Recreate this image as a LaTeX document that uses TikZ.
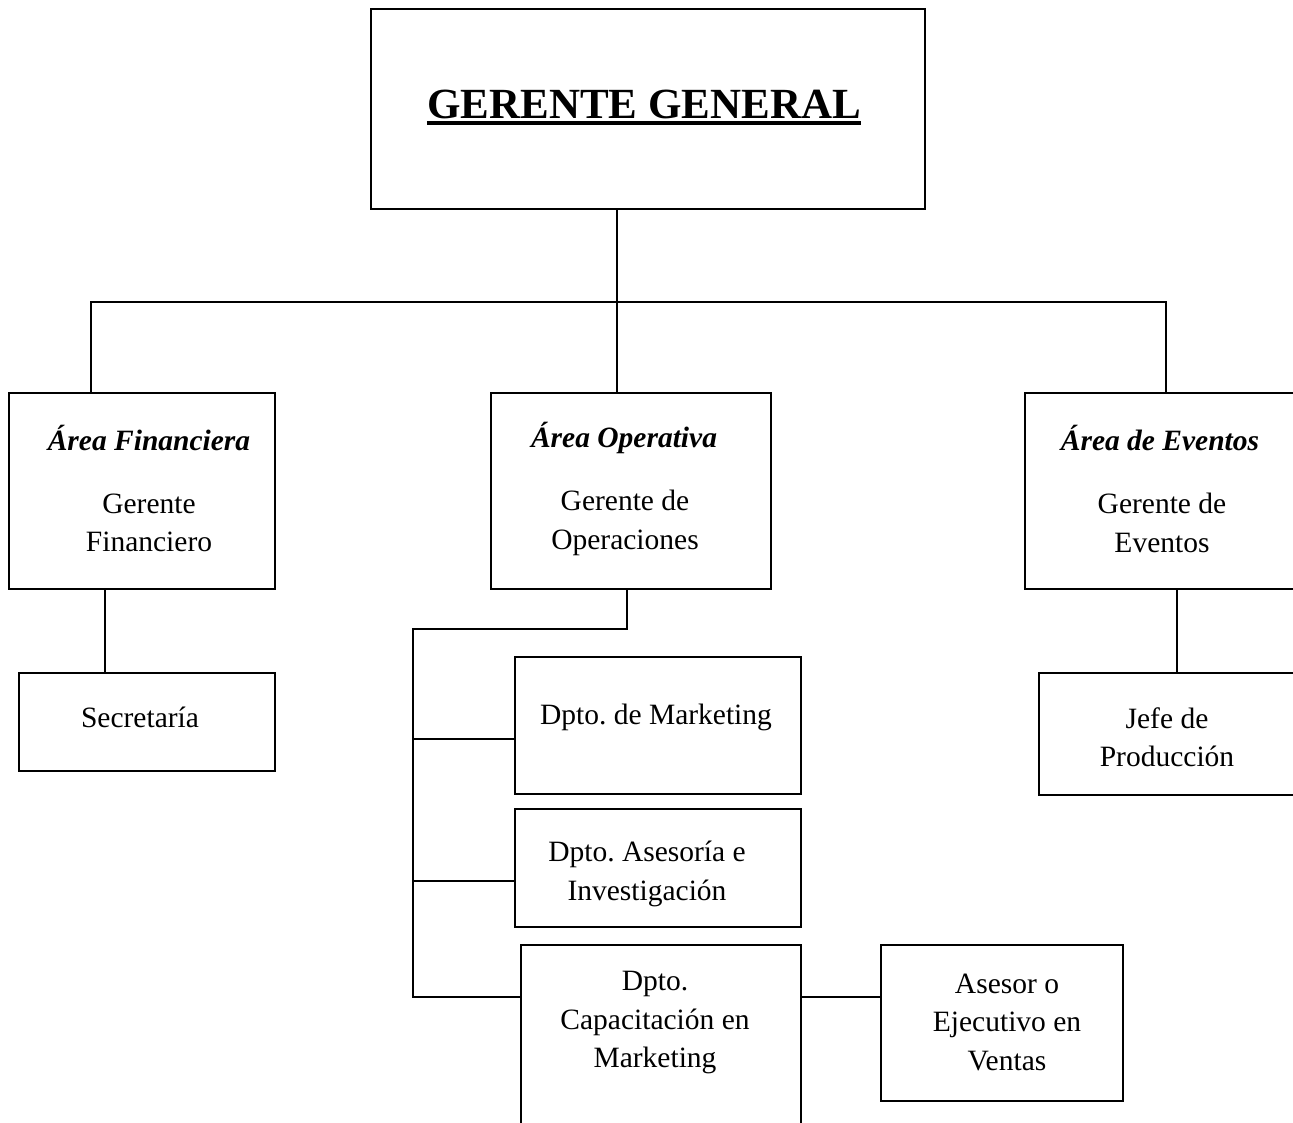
\documentclass[tikz,border=0pt]{standalone}
\usepackage{fontspec}
\setmainfont{Liberation Serif}
\frenchspacing
\begin{document}
\begin{tikzpicture}[x=1pt,y=-1pt,
  box/.style={draw=black,line width=1.6pt,rectangle,inner sep=0pt},
  conn/.style={draw=black,line width=1.6pt},
  txt/.style={inner sep=0pt,align=center,font=\fontsize{29.5}{38.5}\selectfont},
  head/.style={inner sep=0pt,align=center,font=\fontsize{29.5}{39}\selectfont\bfseries\itshape}]
\useasboundingbox (0,0) rectangle (1293,1122);
\begin{scope}
\clip (0,0) rectangle (1293,1122);
% boxes
\node[box,minimum width=554pt,minimum height=200pt] (gg) at (648,109) {};
\node[box,minimum width=266pt,minimum height=196pt] (af) at (142,491) {};
\node[box,minimum width=280pt,minimum height=196pt] (ao) at (631,491) {};
\node[box,minimum width=280pt,minimum height=196pt] (ae) at (1165,491) {};
\node[box,minimum width=256pt,minimum height=98pt] (sec) at (147,722) {};
\node[box,minimum width=286pt,minimum height=137pt] (mk) at (658,725.5) {};
\node[box,minimum width=286pt,minimum height=118pt] (as) at (658,868) {};
\node[box,minimum width=280pt,minimum height=200pt] (cap) at (661,1045) {};
\node[box,minimum width=242pt,minimum height=156pt] (ase) at (1002,1023) {};
\node[box,minimum width=270pt,minimum height=122pt] (jp) at (1174,734) {};
\end{scope}
% title
\node[inner sep=0pt,anchor=base,font=\fontsize{43}{50}\selectfont\bfseries] (title) at (644,118) {GERENTE GENERAL};
\draw[line width=3.5pt] ([yshift=-5pt]title.base west) -- ([yshift=-5pt]title.base east);
% texts
\node[head] (afh) at (149,438) {Área Financiera};
\node[txt] (aft) at (149,523) {Gerente\\Financiero};
\node[head] (aoh) at (624,438) {Área Operativa};
\node[txt] (aot) at (625,523) {Gerente de\\Operaciones};
\node[head] (aeh) at (1160,438) {Área de Eventos};
\node[txt] (aet) at (1162,523) {Gerente de\\Eventos};
\node[txt] (sect) at (140,717) {Secretaría};
\node[txt] (mkt) at (656,717) {Dpto. de Marketing};
\node[txt] (ast) at (647,874) {Dpto. Asesoría e\\Investigación};
\node[txt] (capt) at (655,1023) {Dpto.\\Capacitación en\\Marketing};
\node[txt] (aset) at (1007,1022) {Asesor o\\Ejecutivo en\\Ventas};
\node[txt] (jpt) at (1167,737) {Jefe de\\Producción};
% connectors
\coordinate (bus) at (617,302);
\draw[conn] (gg.south -| bus) -- (ao.north -| bus);
\draw[conn] (af.north -| 91,0) -- (91,302) -- (1166,302) -- (ae.north -| 1166,0);
\draw[conn] (af.south -| 105,0) -- (sec.north -| 105,0);
\draw[conn] (ae.south -| 1177,0) -- (jp.north -| 1177,0);
\coordinate (opb) at (627,629);
\coordinate (vl) at (413,629);
\draw[conn] (ao.south -| opb) -- (opb) -- (vl) -- (413,997) -- (cap.west |- 0,997);
\draw[conn] (413,739) -- (mk.west |- 0,739);
\draw[conn] (413,881) -- (as.west |- 0,881);
\draw[conn] (cap.east |- 0,997) -- (ase.west |- 0,997);
\end{tikzpicture}
\end{document}
